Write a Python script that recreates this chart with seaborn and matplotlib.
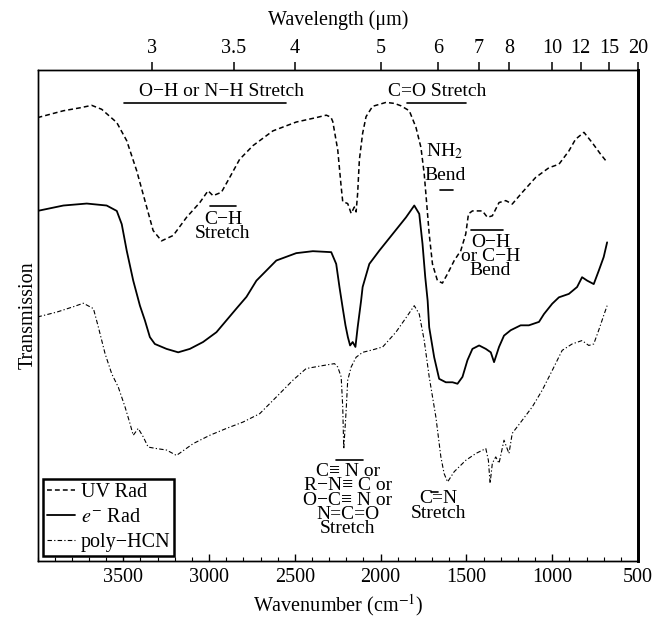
import matplotlib
matplotlib.use("Agg")
import matplotlib.pyplot as plt
from matplotlib.ticker import MultipleLocator, NullLocator
import seaborn as sns

# --- données (nombre d'onde en cm-1, transmission en unités arbitraires 0-100)
uv_wavenumber = [4000, 3849, 3752, 3684, 3626, 3538, 3480, 3422, 3374, 3326, 3277, 3209, 3131, 3054,
                 3006, 2977, 2928, 2880, 2822, 2744, 2628, 2492, 2376, 2317, 2290, 2279, 2250, 2230,
                 2221, 2192, 2172, 2153, 2143, 2134, 2124, 2105, 2085, 2047, 1969, 1920, 1881, 1833,
                 1794, 1765, 1746, 1733, 1717, 1698, 1669, 1640, 1610, 1571, 1533, 1504, 1488, 1465,
                 1407, 1378, 1349, 1310, 1271, 1233, 1174, 1097, 1019, 961, 903, 864, 815, 767, 719, 680]
uv_transmission = [90.3, 91.7, 92.3, 92.8, 92.0, 89.3, 85.6, 79.5, 73.4, 67.3, 65.2, 66.3, 70.0, 73.0,
                   75.4, 74.4, 75.1, 78.1, 81.8, 84.6, 87.6, 89.4, 90.3, 90.8, 90.4, 89.5, 83.7, 76.2,
                   73.2, 72.8, 70.8, 72.1, 71.1, 74.9, 81.7, 87.1, 90.5, 92.6, 93.4, 93.2, 92.7, 91.7,
                   88.3, 84.2, 78.8, 73.4, 66.6, 60.5, 57.1, 56.6, 58.5, 61.2, 63.2, 66.6, 70.7, 71.3,
                   71.3, 70.0, 70.3, 73.0, 73.4, 72.7, 75.1, 78.1, 80.1, 80.8, 83.5, 85.9, 87.3, 85.2, 82.9, 81.2]

erad_wavenumber = [4000, 3849, 3713, 3597, 3538, 3509, 3480, 3442, 3403, 3374, 3345, 3316, 3248, 3180,
                   3112, 3035, 2957, 2899, 2841, 2782, 2724, 2608, 2492, 2395, 2288, 2259, 2240, 2221,
                   2205, 2191, 2178, 2163, 2147, 2134, 2114, 2105, 2066, 2008, 1930, 1852, 1804, 1775,
                   1756, 1740, 1726, 1717, 1688, 1659, 1620, 1581, 1552, 1523, 1494, 1465, 1426, 1387,
                   1358, 1339, 1310, 1281, 1242, 1184, 1136, 1077, 1048, 1000, 961, 903, 855, 826, 796,
                   758, 729, 700, 680]
erad_transmission = [71.3, 72.4, 72.8, 72.4, 71.3, 68.6, 63.2, 57.1, 52.0, 49.0, 45.6, 44.2, 43.2, 42.5,
                     43.2, 44.6, 46.6, 49.0, 51.4, 53.8, 57.1, 61.2, 62.7, 63.1, 62.9, 60.5, 55.8, 51.5,
                     48.0, 45.6, 43.9, 44.6, 43.6, 47.6, 53.0, 55.8, 60.5, 63.2, 66.6, 70.0, 72.4, 70.7,
                     64.6, 57.8, 53.0, 47.6, 41.5, 37.1, 36.4, 36.4, 36.1, 37.5, 40.9, 43.2, 43.9, 43.2,
                     42.5, 40.5, 43.6, 45.9, 47.0, 48.0, 48.0, 48.7, 50.3, 52.4, 53.7, 54.4, 55.8, 57.8, 57.1,
                     56.4, 59.1, 61.9, 64.9]

hcn_wavenumber = [4000, 3887, 3790, 3733, 3674, 3645, 3606, 3567, 3529, 3490, 3461, 3442, 3413, 3384,
                  3355, 3306, 3248, 3190, 3093, 2996, 2899, 2802, 2705, 2608, 2512, 2434, 2337, 2269,
                  2250, 2230, 2221, 2215, 2201, 2192, 2172, 2143, 2105, 2047, 1988, 1911, 1843, 1804,
                  1775, 1746, 1717, 1678, 1649, 1630, 1610, 1571, 1504, 1445, 1387, 1372, 1362, 1349,
                  1329, 1310, 1281, 1252, 1233, 1174, 1116, 1058, 1000, 942, 884, 826, 787, 758, 729, 700, 680]
hcn_transmission = [49.7, 50.7, 51.8, 52.5, 51.4, 47.6, 42.2, 38.1, 35.4, 31.4, 28.0, 25.6, 27.0, 25.3,
                    23.2, 22.9, 22.6, 21.5, 23.9, 25.6, 27.0, 28.3, 30.0, 33.4, 36.8, 39.2, 39.8, 40.2,
                    39.5, 37.5, 31.4, 22.8, 30.7, 36.8, 39.5, 41.5, 42.5, 43.0, 43.6, 46.6, 50.0, 52.0,
                    50.3, 44.9, 37.5, 29.3, 21.2, 17.8, 16.1, 18.2, 20.5, 21.9, 22.9, 20.5, 15.8, 19.9,
                    21.2, 19.9, 24.6, 21.9, 26.0, 28.7, 31.4, 34.8, 38.8, 42.9, 44.2, 44.9, 43.9, 44.2, 47.0, 50.0, 52.0]

legend_labels = ["UV Rad", r"$e^{-}$ Rad", "poly\u2212HCN"]
wavenumber_ticks = [3500, 3000, 2500, 2000, 1500, 1000, 500]
wavelength_ticks = [3, 3.5, 4, 5, 6, 7, 8, 10, 12, 15, 20]
wavelength_labels = ["3", "3.5", "4", "5", "6", "7", "8", "10", "12", "15", "20"]

# annotations : (texte, nombre d'onde, transmission du centre du bloc)
annotation_texts = [
    ("O\u2212H or N\u2212H Stretch", 2930, 95.6),
    ("C=O Stretch", 1672, 95.6),
    ("NH$_2$", 1625, 83.4),
    ("Bend", 1625, 78.6),
    ("C\u2212H\nStretch", 2919, 68.2),
    ("O\u2212H\nor C\u2212H\nBend", 1360, 62.0),
    ("C\u2261 N or\nR\u2212N\u2261 C or\nO\u2212C\u2261 N or\nN=C=O\nStretch", 2192, 12.4),
    ("C=N\nStretch", 1661, 11.2),
]
# traits de soulignement / surlignement : (début, fin, transmission)
annotation_bars = [
    (3498, 2550, 93.2),
    (1849, 1503, 93.2),
    (1653, 1581, 75.6),
    (2996, 2841, 72.3),
    (1474, 1287, 67.4),
    (2259, 2105, 20.6),
    (1707, 1665, 14.0),
]

##############################################################################
sns.set_style("ticks", {"axes.edgecolor": "black", "xtick.color": "black", "ytick.color": "black",
                        "text.color": "black", "axes.labelcolor": "black"})
plt.rcParams['font.family'] = ['Liberation Serif', 'DejaVu Serif']
plt.rcParams['mathtext.fontset'] = 'stix'
plt.rcParams['lines.scale_dashes'] = False

fig = plt.figure(figsize=(6.57, 6.2), dpi=100)
ax = fig.add_axes([37.5 / 657, 1 - 561 / 620, (638 - 37.5) / 657, (561 - 70) / 620])

sns.lineplot(x=uv_wavenumber, y=uv_transmission, ax=ax, color="black", lw=1.1,
             linestyle=(0, (3.5, 2.2)), sort=False, estimator=None)
sns.lineplot(x=erad_wavenumber, y=erad_transmission, ax=ax, color="black", lw=1.3,
             sort=False, estimator=None)
sns.lineplot(x=hcn_wavenumber, y=hcn_transmission, ax=ax, color="black", lw=0.8,
             linestyle=(0, (3.2, 1.6, 0.9, 1.6)), sort=False, estimator=None)
handles = ax.get_lines()[:3]

for txt, w, t in annotation_texts:
    ax.text(w, t, txt, ha="center", va="center", multialignment="center",
            linespacing=0.78, fontsize=14)
for w1, w2, t in annotation_bars:
    ax.plot([w1, w2], [t, t], color="black", lw=1.2)

ax.set_xlim(4000, 500)
ax.set_ylim(0, 100)
ax.set_yticks([])
ax.set_xticks(wavenumber_ticks)
ax.set_xticklabels([str(v) for v in wavenumber_ticks])
ax.xaxis.set_minor_locator(MultipleLocator(100))
ax.tick_params(axis="x", which="both", direction="in", top=True, bottom=True, labelsize=14.5, pad=5)
ax.tick_params(axis="x", which="major", length=5, width=1)
ax.tick_params(axis="x", which="minor", length=3, width=0.8)
ax.set_xlabel("Wavenumber (cm$^{-1}$)", fontsize=14.5, labelpad=4)
ax.set_ylabel("Transmission", fontsize=14.5, labelpad=0)

# axe du haut en longueur d'onde
ax2 = ax.twiny()
ax2.set_xlim(ax.get_xlim())
ax2.set_xticks([1e4 / lam for lam in wavelength_ticks])
ax2.set_xticklabels(wavelength_labels)
ax2.xaxis.set_minor_locator(NullLocator())
ax2.tick_params(axis="x", direction="out", length=6, width=1.1, labelsize=14.5, pad=2.5)
ax2.set_xlabel("Wavelength (\u03bcm)", fontsize=14.5, labelpad=10)

for a in (ax, ax2):
    for side in ("left", "top", "bottom"):
        a.spines[side].set_linewidth(1.0)
    a.spines["right"].set_linewidth(2.0)

leg = ax.legend(handles, legend_labels, loc="lower left", frameon=True, fancybox=False,
                edgecolor="black", framealpha=1, borderaxespad=0.25, handlelength=1.4,
                handletextpad=0.3, labelspacing=0.3, borderpad=0.2, fontsize=14.5)
leg.get_frame().set_linewidth(1.8)

fig.savefig("out.png", dpi=100)
